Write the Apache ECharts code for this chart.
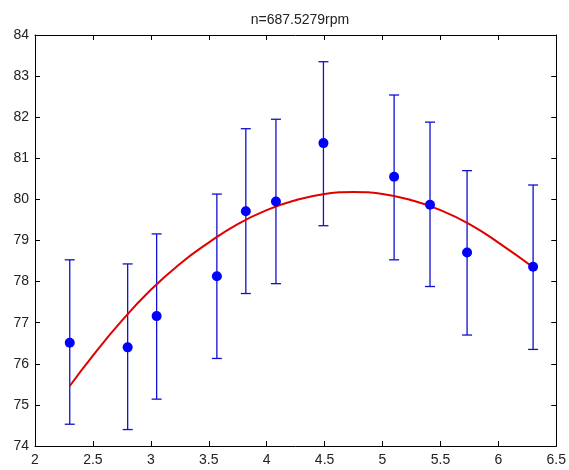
<!DOCTYPE html>
<html>
<head>
<meta charset="utf-8">
<script src="https://cdn.jsdelivr.net/npm/echarts@6/dist/echarts.min.js"></script>
<style>
html,body{margin:0;padding:0;background:#fff;}
#chart{width:569px;height:470px;}
</style>
</head>
<body>
<div id="chart"></div>
<script>
// ---- data ----
const titleText = 'n=687.5279rpm';
const xTicks = [2, 2.5, 3, 3.5, 4, 4.5, 5, 5.5, 6, 6.5];
const yTicks = [74, 75, 76, 77, 78, 79, 80, 81, 82, 83, 84];

const pointX = [2.30, 2.80, 3.05, 3.57, 3.82, 4.08, 4.49, 5.10, 5.41, 5.73, 6.30];
const pointY = [76.51, 76.40, 77.16, 78.13, 79.71, 79.95, 81.37, 80.55, 79.87, 78.71, 78.36];
const errLow  = [74.53, 74.40, 75.14, 76.13, 77.71, 77.95, 79.36, 78.53, 77.88, 76.70, 76.35];
const errHigh = [78.53, 78.43, 79.16, 80.13, 81.72, 81.95, 83.35, 82.54, 81.88, 80.70, 80.35];

const fitX = [2.30, 2.50, 2.75, 3.00, 3.25, 3.50, 3.75, 4.00, 4.25, 4.50, 4.75, 5.00, 5.25, 5.50, 5.75, 6.00, 6.30];
const fitY = [75.46, 76.20, 77.05, 77.80, 78.43, 78.95, 79.40, 79.74, 79.98, 80.13, 80.18, 80.13, 79.98, 79.74, 79.40, 78.95, 78.35];

// ---- build chart ----
const points = pointX.map((x, i) => [x, pointY[i]]);
const bars = pointX.map((x, i) => [x, errLow[i], errHigh[i]]);
const fit = fitX.map((x, i) => [x, fitY[i]]);

const font = 'Liberation Sans, Arial, sans-serif';
const lineStyle = {color: '#000', width: 1};

const chart = echarts.init(document.getElementById('chart'), null, {renderer: 'canvas'});
chart.setOption({
  animation: false,
  backgroundColor: '#fff',
  title: {
    text: titleText,
    left: 295, top: 8, textAlign: 'center',
    textStyle: {fontFamily: font, fontSize: 14, fontWeight: 'normal', color: '#222'}
  },
  grid: {left: 35, right: 12, top: 35, bottom: 24, containLabel: false},
  xAxis: [{
    type: 'value', min: xTicks[0], max: xTicks[xTicks.length - 1], interval: 0.5,
    axisLine: {show: true, lineStyle: lineStyle},
    axisTick: {show: true, inside: true, length: 5, lineStyle: lineStyle},
    axisLabel: {fontFamily: font, fontSize: 14, color: '#222', margin: 7},
    splitLine: {show: false}
  }, {
    type: 'value', position: 'top', min: xTicks[0], max: xTicks[xTicks.length - 1], interval: 0.5,
    axisLine: {show: true, lineStyle: lineStyle},
    axisTick: {show: true, inside: true, length: 5, lineStyle: lineStyle},
    axisLabel: {show: false},
    splitLine: {show: false}
  }],
  yAxis: [{
    type: 'value', min: yTicks[0], max: yTicks[yTicks.length - 1], interval: 1,
    axisLine: {show: true, lineStyle: lineStyle},
    axisTick: {show: true, inside: true, length: 5, lineStyle: lineStyle},
    axisLabel: {fontFamily: font, fontSize: 14, color: '#222', margin: 6},
    splitLine: {show: false}
  }, {
    type: 'value', position: 'right', min: yTicks[0], max: yTicks[yTicks.length - 1], interval: 1,
    axisLine: {show: true, lineStyle: lineStyle},
    axisTick: {show: true, inside: true, length: 5, lineStyle: lineStyle},
    axisLabel: {show: false},
    splitLine: {show: false}
  }],
  series: [{
    type: 'custom',
    xAxisIndex: 0, yAxisIndex: 0,
    data: bars,
    z: 2,
    renderItem: function (params, api) {
      const x = api.value(0);
      const lo = api.coord([x, api.value(1)]);
      const hi = api.coord([x, api.value(2)]);
      const w = 5;
      const st = {stroke: '#1010d0', lineWidth: 1.3};
      return {
        type: 'group',
        children: [
          {type: 'line', shape: {x1: lo[0], y1: lo[1], x2: hi[0], y2: hi[1]}, style: st},
          {type: 'line', shape: {x1: lo[0] - w, y1: lo[1], x2: lo[0] + w, y2: lo[1]}, style: st},
          {type: 'line', shape: {x1: hi[0] - w, y1: hi[1], x2: hi[0] + w, y2: hi[1]}, style: st}
        ]
      };
    }
  }, {
    type: 'line',
    data: fit,
    smooth: true,
    showSymbol: false,
    symbol: 'none',
    z: 3,
    lineStyle: {color: '#e00000', width: 2}
  }, {
    type: 'scatter',
    data: points,
    symbol: 'circle',
    symbolSize: 10,
    z: 4,
    itemStyle: {color: '#0000ff', opacity: 1}
  }]
});
</script>
</body>
</html>
